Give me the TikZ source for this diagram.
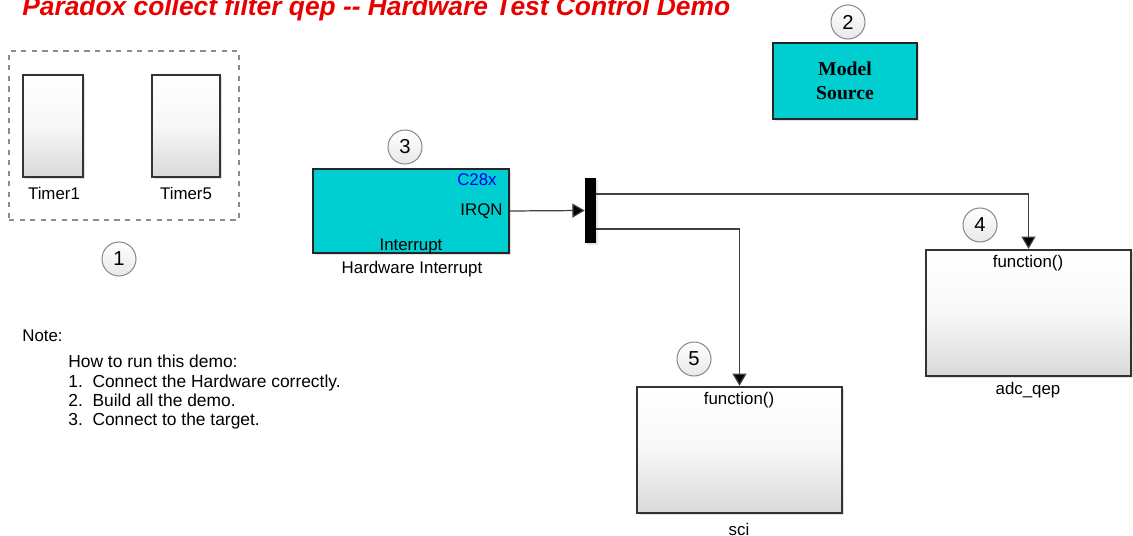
\documentclass[tikz,border=0pt]{standalone}
\usepackage{fontspec}
\setmainfont{Liberation Sans}
\newfontfamily\srcfont{Liberation Serif}
\usetikzlibrary{arrows.meta,shadows}
\definecolor{blockCyan}{RGB}{0,206,209}
\definecolor{titleRed}{RGB}{232,0,0}
\definecolor{chipBlue}{RGB}{0,0,235}
\tikzset{
  lbl/.style={inner sep=0pt,font=\fontsize{9.6}{11}\selectfont},
  whitebox/.style={draw=black!80,line width=1.3pt,top color=white,bottom color=black!15,middle color=black!3,
    drop shadow={opacity=0.25,shadow xshift=1pt,shadow yshift=-1pt},inner sep=0pt},
  cyanbox/.style={draw=black!85,line width=0.9pt,fill=blockCyan,inner sep=0pt,
    drop shadow={opacity=0.25,shadow xshift=1pt,shadow yshift=-1pt}},
  tagcircle/.style={circle,draw=black!45,line width=0.6pt,minimum size=0.68cm,inner sep=0pt,
    top color=white,bottom color=black!9,font=\fontsize{11.5}{11.5}\selectfont},
  sig/.style={draw=black!75,line width=0.7pt,-{Triangle[length=7pt,width=8pt,fill=black]}}
}

\begin{document}
\begin{tikzpicture}[x=0.02cm,y=-0.02cm]
\clip (0,0) rectangle (1133,536);
\fill[white] (0,0) rectangle (1133,536);

\node[anchor=base west,inner sep=0pt,text=titleRed,font=\fontsize{15}{15}\selectfont\bfseries\itshape] (title) at (22,16)
  {Paradox collect filter qep {-}{-} Hardware Test Control Demo};

% timers
\node[draw=black!45,dashed,line width=0.6pt,minimum width=4.6cm,minimum height=3.38cm,inner sep=0pt] (timers) at (124,135.5) {};
\node[whitebox,line width=1.1pt,minimum width=1.2cm,minimum height=2.04cm] (timerA) at (53,126) {};
\node[whitebox,line width=1.1pt,minimum width=1.36cm,minimum height=2.04cm] (timerB) at (186,126) {};
\node[lbl] (timerAlbl) at (54,193) {Timer1};
\node[lbl] (timerBlbl) at (186,193) {Timer5};
\node[tagcircle] (tagA) at (119,259) {1};

% model source
\node[tagcircle] (tagB) at (848,22) {2};
\node[cyanbox,minimum width=2.88cm,minimum height=1.52cm,align=center,
  font=\srcfont\bfseries\fontsize{11.2}{13.6}\selectfont] (src) at (845,81) {Model\\Source};

% hardware interrupt
\node[tagcircle] (tagC) at (405,147) {3};
\node[cyanbox,minimum width=3.92cm,minimum height=1.68cm] (hwi) at (411,211) {};
\node[lbl,anchor=east,text=chipBlue] (chip) at (497,180) {C28x};
\node[lbl,anchor=east] (irqn) at (503,211) {IRQN};
\node[lbl] (intr) at (411,246) {Interrupt};
\node[lbl] (hwilbl) at (412,269) {Hardware Interrupt};

% demux
\node[fill=black,minimum width=0.22cm,minimum height=1.3cm,inner sep=0pt,
  drop shadow={opacity=0.2,shadow xshift=1pt,shadow yshift=-1pt}] (demux) at (590.5,210.5) {};
\coordinate (outA) at (596,194);
\coordinate (outB) at (596,229);

% function calls
\node[tagcircle] (tagD) at (980,225) {4};
\node[whitebox,minimum width=4.1cm,minimum height=2.52cm] (adc) at (1028.5,313) {};
\node[lbl] (adcfn) at (1028,263) {function()};
\node[lbl] (adclbl) at (1028,390) {adc\_qep};

\node[tagcircle] (tagE) at (694,359) {5};
\node[whitebox,minimum width=4.1cm,minimum height=2.52cm] (sci) at (739.5,450) {};
\node[lbl] (scifn) at (739,400) {function()};
\node[lbl] (scilbl) at (739,529) {sci};

\draw[sig] (hwi.east) -- (demux.west);
\draw[sig] (outA) -| (adc.north);
\draw[sig] (outB) -| (sci.north);

% note
\node[lbl,anchor=base west] (note) at (22,342) {Note:};
\node[lbl,anchor=north west,align=left,font=\fontsize{9.9}{10.95}\selectfont] (steps) at (68,355)
  {How to run this demo:\\
   1.\ \ Connect the Hardware correctly.\\
   2.\ \ Build all the demo.\\
   3.\ \ Connect to the target.};
\end{tikzpicture}
\end{document}
